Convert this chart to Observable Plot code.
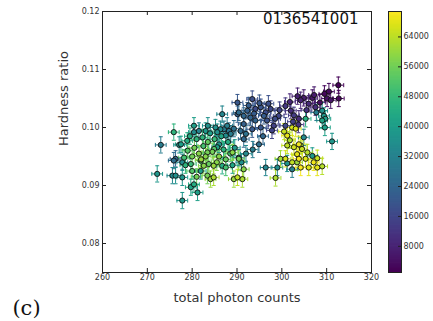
<!DOCTYPE html>
<html><head><meta charset="utf-8">
<script src="https://cdn.jsdelivr.net/npm/d3@7"></script>
<script src="https://cdn.jsdelivr.net/npm/@observablehq/plot@0.6"></script>
<style>
html,body{margin:0;padding:0;background:#fff;}
#wrap{position:relative;width:433px;height:321px;}
#wrap svg{position:absolute;left:0;top:0;}
</style></head><body><div id="wrap"></div>
<script>
// ---- data ----
const counts = [
312.6,310.5,312.7,310.1,310.9,304.9,306.8,304.2,306.0,307.5,303.5,308.5,309.5,307.2,305.5,300.8,302.0,302.7,303.8,302.5,303.7,299.5,301.8,
290.1,293.4,292.3,294.1,295.3,297.5,296.0,293.0,291.5,290.4,296.7,298.2,291.5,293.4,294.9,291.5,295.3,292.6,296.4,299.3,294.1,300.8,289.3,290.8,290.1,297.0,298.5,295.0,293.8,297.8,292.0,295.8,
286.7,285.2,286.3,287.8,288.6,287.5,286.0,285.6,283.0,282.3,290.4,289.0,309.0,309.4,309.7,309.0,309.6,311.2,305.3,304.9,307.7,296.4,299.0,301.2,306.8,302.3,
302.3,301.2,301.2,302.7,304.2,303.4,303.1,303.8,304.5,305.7,305.3,303.8,302.3,300.8,299.7,307.9,309.0,307.9,306.0,304.2,298.6,303.4,307.1,301.8,300.5,
282.6,283.7,284.8,286.7,287.5,284.8,283.4,284.1,290.1,289.3,291.2,291.5,279.0,280.5,281.5,282.5,283.5,284.5,285.0,286.0,287.0,288.0,288.5,289.5,282.0,283.0,280.0,279.5,281.0,284.0,286.5,278.5,280.0,281.0,285.5,287.5,289.0,291.0,292.0,293.5,277.5,278.9,280.4,281.5,285.6,287.1,288.2,278.2,279.7,281.9,283.4,284.9,290.4,
272.2,273.0,275.6,276.3,277.8,277.8,281.2,279.7,280.4,275.9,277.8,281.9,275.9,277.1,276.3,280.4,283.5
];
const hardness = [
0.1073,0.1062,0.1050,0.1050,0.1047,0.1051,0.1051,0.1047,0.1041,0.1035,0.1054,0.1043,0.1058,0.1056,0.1030,0.1037,0.1029,0.1021,0.1015,0.1010,0.1005,0.1030,0.1044,
0.1043,0.1049,0.1029,0.1032,0.1035,0.1032,0.1020,0.1017,0.1020,0.1026,0.1012,0.1003,0.1006,0.0997,0.0971,0.0980,0.1000,0.1038,0.1026,0.1020,0.1012,0.1003,0.0998,0.0994,0.1023,0.1041,0.1015,0.1042,0.1024,0.0995,0.0989,0.0985,
0.1023,0.1000,0.0997,0.1003,0.0989,0.0986,0.0971,0.0966,0.0994,0.0983,0.0948,0.0957,0.1029,0.1020,0.1015,0.1012,0.1000,0.0976,0.1015,0.0983,0.1026,0.0931,0.0931,0.0938,0.0951,0.0928,
0.1000,0.0986,0.0969,0.0966,0.0969,0.0954,0.0998,0.0971,0.0963,0.0957,0.0946,0.0946,0.0940,0.0946,0.0946,0.0947,0.0933,0.0931,0.0931,0.0931,0.0913,0.0940,0.0940,0.0978,0.0993,
0.0934,0.0937,0.0934,0.0934,0.0931,0.0914,0.0917,0.0911,0.0914,0.0911,0.0911,0.0928,0.0960,0.0965,0.0955,0.0968,0.0975,0.0958,0.0980,0.0950,0.0962,0.0975,0.0955,0.0965,0.0945,0.0950,0.0950,0.0985,0.0980,0.0990,0.0985,0.0935,0.0925,0.0915,0.0940,0.0945,0.0935,0.0940,0.0955,0.0962,0.0971,0.0977,0.0992,0.0994,0.0992,0.0997,0.0994,0.0948,0.0937,0.0943,0.0957,0.0963,0.0946,
0.0920,0.0970,0.0917,0.0917,0.0914,0.0874,0.0888,0.0897,0.0902,0.0943,0.0940,0.0925,0.0992,0.0970,0.0946,0.1003,0.1003
];
const time = [
1500,3000,2000,4000,5000,6500,5500,8000,9000,10000,7000,3500,2500,6000,11000,12000,10500,13000,9500,14000,11500,15000,8500,
20000,18000,22000,17000,19000,16000,21000,23000,24000,25000,18500,14500,22500,20500,26000,24500,19500,21500,17500,15500,23500,16500,27000,25500,22000,18000,17000,20000,21000,15000,27500,24000,
33000,36000,34000,31000,30000,35000,38000,40000,38000,46000,32000,58000,36000,38000,40000,42000,41000,38000,45000,34000,30000,33000,35000,37000,39000,31000,
66000,68000,64000,66000,62000,68000,67000,69000,65000,63000,67000,69500,64000,66000,61000,65000,63000,68000,67000,70000,62000,60000,69000,62000,65000,
58000,54000,60000,44000,50000,62000,56000,60000,64000,60000,62000,58000,52000,56000,58000,50000,54000,56000,48000,58000,46000,44000,50000,38000,60000,58000,56000,44000,46000,40000,42000,46000,52000,56000,58000,54000,42000,36000,34000,30000,40000,44000,34000,32000,36000,30000,28000,50000,48000,54000,56000,52000,56000,
38000,30000,34000,36000,38000,38000,40000,42000,44000,26000,34000,40000,46000,36000,24000,40000,36000
];
const xTicks = [260,270,280,290,300,310,320];
const yTicks = [0.08,0.09,0.10,0.11,0.12];
const cTicks = [8000,16000,24000,32000,40000,48000,56000,64000];
const obsId = "0136541001";
const xLabel = "total photon counts";
const yLabel = "Hardness ratio";
const panel = "(c)";
const countErr = 1.2;
const hardErr = 0.0014;
const xDomain = [260,320];
const yDomain = [0.075,0.12];
const colorDomain = [1000,70800];

// ---- layout ----
const W = 433, H = 321, mL = 102, mR = 62, mT = 11, mB = 49;
const frameW = W - mL - mR, frameH = H - mT - mB;
const ink = "#222";
const textCol = "#333";

const data = counts.map((x, i) => ({x, y: hardness[i], c: time[i]})).sort((a, b) => a.c - b.c);
const vcap = {draw(ctx, size) { const h = Math.sqrt(size / Math.PI); ctx.moveTo(0, -h); ctx.lineTo(0, h); }};
const hcap = {draw(ctx, size) { const h = Math.sqrt(size / Math.PI); ctx.moveTo(-h, 0); ctx.lineTo(h, 0); }};
const colorScale = {type: "linear", scheme: "viridis", domain: colorDomain};

const main = Plot.plot({
  width: W, height: H, marginLeft: mL, marginRight: mR, marginTop: mT, marginBottom: mB,
  style: {fontFamily: "DejaVu Sans", background: "white", color: textCol},
  x: {domain: xDomain},
  y: {domain: yDomain},
  color: colorScale,
  marks: [
    Plot.ruleY(data, {y: "y", x1: d => d.x - countErr, x2: d => d.x + countErr, stroke: "c", strokeWidth: 1}),
    Plot.ruleX(data, {x: "x", y1: d => d.y - hardErr, y2: d => d.y + hardErr, stroke: "c", strokeWidth: 1}),
    Plot.dot(data, {x: d => d.x - countErr, y: "y", symbol: vcap, r: 2, stroke: "c", fill: "none", strokeWidth: 1}),
    Plot.dot(data, {x: d => d.x + countErr, y: "y", symbol: vcap, r: 2, stroke: "c", fill: "none", strokeWidth: 1}),
    Plot.dot(data, {x: "x", y: d => d.y - hardErr, symbol: hcap, r: 2, stroke: "c", fill: "none", strokeWidth: 1}),
    Plot.dot(data, {x: "x", y: d => d.y + hardErr, symbol: hcap, r: 2, stroke: "c", fill: "none", strokeWidth: 1}),
    Plot.dot(data, {x: "x", y: "y", r: 2.6, fill: "c", stroke: "#111", strokeWidth: 0.9}),
    Plot.frame({stroke: ink}),
    Plot.tickX(xTicks, {x: d => d, insetTop: frameH - 4, stroke: ink}),
    Plot.tickX(xTicks, {x: d => d, insetBottom: frameH - 4, stroke: ink}),
    Plot.tickY(yTicks, {y: d => d, insetRight: frameW - 4, stroke: ink}),
    Plot.tickY(yTicks, {y: d => d, insetLeft: frameW - 4, stroke: ink}),
    Plot.axisX(xTicks, {tickSize: 0, tickPadding: 2, fontSize: 8, label: null, tickFormat: d => String(d)}),
    Plot.axisY(yTicks, {tickSize: 0, tickPadding: 3, fontSize: 8, label: null, tickFormat: d3.format(".2f")}),
    Plot.text([obsId], {frameAnchor: "top-right", textAnchor: "end", lineAnchor: "top", dx: -13, dy: 2, fontSize: 15, fill: "#111"}),
    Plot.text([yLabel], {frameAnchor: "left", rotate: -90, dx: -39, dy: 4, fontSize: 13, fill: textCol, lineAnchor: "middle"}),
    Plot.text([xLabel], {frameAnchor: "bottom", dy: 25, fontSize: 13, fill: textCol, lineAnchor: "middle"}),
    Plot.text([panel], {frameAnchor: "bottom-left", dx: -76, dy: 36, fontSize: 21, fontFamily: "DejaVu Serif", fill: "#111", textAnchor: "middle", lineAnchor: "middle"})
  ]
});

// ---- colorbar ----
const cbL = 388, cbR = 32;
const nSteps = 200;
const stepSize = (colorDomain[1] - colorDomain[0]) / nSteps;
const steps = d3.range(nSteps).map(i => colorDomain[0] + i * stepSize);
const cbW = W - cbL - cbR;
const bar = Plot.plot({
  width: W, height: H, marginLeft: cbL, marginRight: cbR, marginTop: mT, marginBottom: mB,
  style: {fontFamily: "DejaVu Sans", background: "transparent", color: textCol},
  y: {domain: colorDomain},
  color: colorScale,
  marks: [
    Plot.rect(steps, {y1: d => d, y2: d => Math.min(colorDomain[1], d + stepSize * 1.6), fill: d => d}),
    Plot.frame({stroke: ink}),
    Plot.tickY(cTicks, {y: d => d, insetLeft: cbW - 3, stroke: ink}),
    Plot.axisY(cTicks, {anchor: "right", tickSize: 0, tickPadding: 2, fontSize: 8, label: null, tickFormat: d => String(d)})
  ]
});

const wrap = document.getElementById("wrap");
wrap.appendChild(main);
wrap.appendChild(bar);
</script>
</body></html>
